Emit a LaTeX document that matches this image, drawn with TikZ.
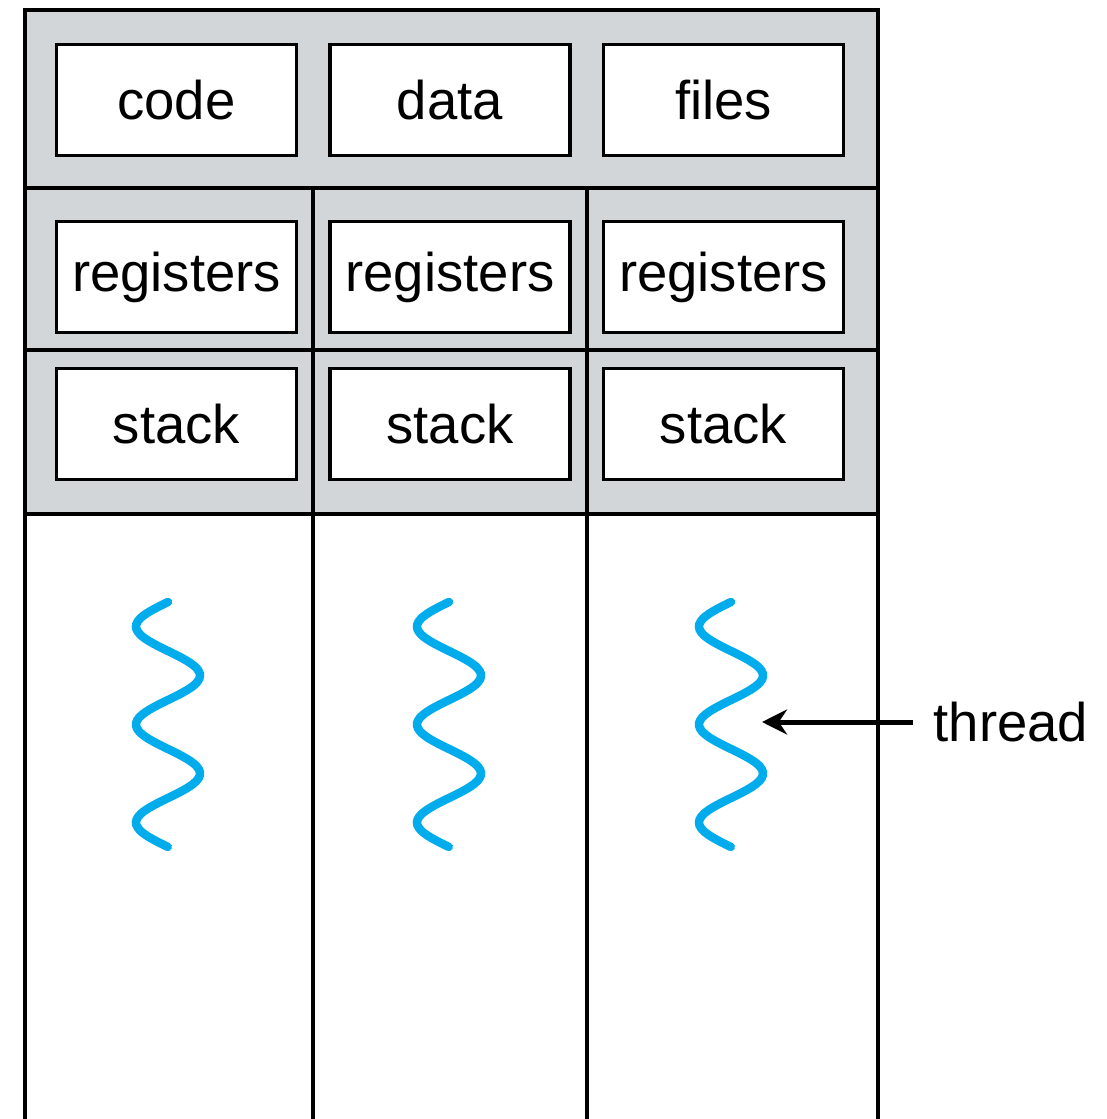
\documentclass[tikz,border=0pt]{standalone}
\usepackage{fontspec}
\setmainfont{Liberation Sans}
\usetikzlibrary{arrows.meta}

\definecolor{bandgray}{RGB}{211,214,216}
\definecolor{threadblue}{RGB}{0,172,236}

\begin{document}
\begin{tikzpicture}[>={Stealth[length=0.5cm,width=0.5cm]},line width=0.07cm,
  font=\fontsize{31}{37}\selectfont,
  box/.style={draw,fill=white,minimum width=4.8cm,minimum height=2.22cm,inner sep=0},
  squiggle/.style={draw=threadblue,line width=0.17cm,line cap=round},
  node distance=5.47cm]

\useasboundingbox (0,0) rectangle (22.12,-22.38);

% shared and per-thread parts
\fill[bandgray] (0.5,-0.2) rectangle (17.56,-10.28);
\draw (0.5,-22.38) |- (17.56,-0.2) -- (17.56,-22.38);
\draw (0.5,-3.76) -- (17.56,-3.76);
\draw (0.5,-7.0) -- (17.56,-7.0);
\draw (0.5,-10.28) -- (17.56,-10.28);
\draw (6.26,-3.76) -- (6.26,-22.38);
\draw (11.74,-3.76) -- (11.74,-22.38);

\node[box] (code)               at (3.53,-2.0) {code};
\node[box] (data)  [right of=code]  {data};
\node[box] (files) [right of=data]  {files};

\node[box] (reg1)  at (3.53,-5.54) {registers};
\node[box] (reg2)  [right of=reg1]  {registers};
\node[box] (reg3)  [right of=reg2]  {registers};

\node[box] (stack1) at (3.53,-8.48) {stack};
\node[box] (stack2) [right of=stack1] {stack};
\node[box] (stack3) [right of=stack2] {stack};

% threads
\draw[squiggle] plot[domain=0:2.5,samples=90,smooth] ({3.36-0.64*sin(\x*360)},{-12.04-1.96*\x});
\draw[squiggle] plot[domain=0:2.5,samples=90,smooth] ({8.98-0.64*sin(\x*360)},{-12.04-1.96*\x});
\draw[squiggle] plot[domain=0:2.5,samples=90,smooth] ({14.62-0.64*sin(\x*360)},{-12.04-1.96*\x});

\coordinate (t3) at (15.24,-14.44);
\node[anchor=west,inner xsep=0.38cm,inner ysep=0] (thread) at (18.26,-14.44) {thread};

\draw[->,line width=0.1cm] (thread.west) -- (t3);
\end{tikzpicture}
\end{document}
